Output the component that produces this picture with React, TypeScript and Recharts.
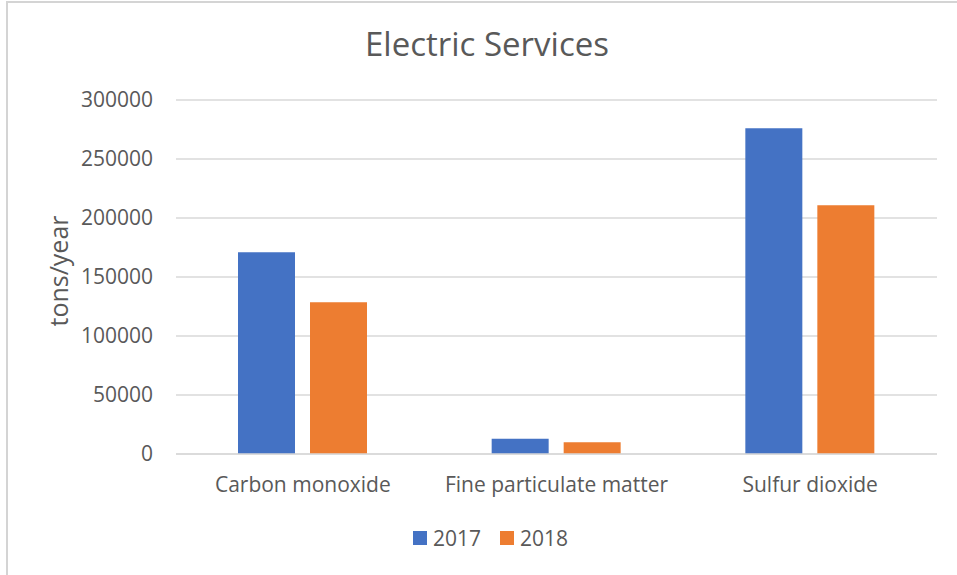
import React from "react";
import { Bar, BarChart, CartesianGrid, XAxis, YAxis } from "recharts";

const categories = ["Carbon monoxide", "Fine particulate matter", "Sulfur dioxide"];
const values2017 = [171000, 13000, 276000];
const values2018 = [128700, 10000, 210700];
const yTicks = [0, 50000, 100000, 150000, 200000, 250000, 300000];

const series = [
  { key: "y2017", name: "2017", color: "#4472C4" },
  { key: "y2018", name: "2018", color: "#ED7D31" },
];

const textColor = "#595959";
const gridColor = "#d9d9d9";
const font = "'Open Sans', sans-serif";

const LegendBox = () => (
  <div style={{ display: "flex", justifyContent: "center", gap: 19, fontFamily: font }}>
    {series.map((s) => (
      <div key={s.key} style={{ display: "flex", alignItems: "center", gap: 6 }}>
        <span style={{ width: 14, height: 14, background: s.color, display: "inline-block" }} />
        <span style={{ fontSize: 21, color: textColor, lineHeight: "24px" }}>{s.name}</span>
      </div>
    ))}
  </div>
);

export default function App() {
  const data = categories.map((c, i) => ({
    name: c,
    y2017: values2017[i],
    y2018: values2018[i],
  }));

  return (
    <div style={{ position: "absolute", left: 0, top: 0, width: 957, height: 575, background: "#fff", overflow: "hidden", fontFamily: font }}>
      <div
        style={{
          position: "absolute",
          left: 6,
          top: 1,
          width: 951,
          height: 574,
          borderLeft: "2px solid #d4d4d4",
          borderTop: "2px solid #d4d4d4",
          boxSizing: "border-box",
        }}
      />
      <div style={{ position: "absolute", left: 17, width: 940, top: 20, textAlign: "center", fontSize: 33, color: textColor, lineHeight: "48px" }}>
        Electric Services
      </div>
      <div
        style={{
          position: "absolute",
          left: 58,
          top: 271,
          transform: "translate(-50%, -50%) rotate(-90deg)",
          fontSize: 25,
          color: textColor,
          whiteSpace: "nowrap",
        }}
      >
        tons/year
      </div>
      <div style={{ position: "absolute", left: 0, top: 0 }}>
        <BarChart
          width={957}
          height={575}
          data={data}
          margin={{ top: 100, right: 20, bottom: 0, left: 96 }}
          barCategoryGap={62}
          barGap={15}
        >
          <CartesianGrid vertical={false} stroke={gridColor} strokeWidth={1.3} />
          <YAxis
            width={80}
            domain={[0, 300000]}
            ticks={yTicks}
            axisLine={false}
            tickLine={false}
            tickSize={0}
            tickMargin={23}
            tick={{ fill: textColor, fontSize: 21, fontFamily: font }}
          />
          <XAxis
            dataKey="name"
            height={121}
            axisLine={{ stroke: gridColor, strokeWidth: 1.3 }}
            tickLine={false}
            tickSize={0}
            tickMargin={23}
            tick={{ fill: textColor, fontSize: 21, fontFamily: font }}
            interval={0}
          />
          {series.map((s) => (
            <Bar key={s.key} dataKey={s.key} name={s.name} fill={s.color} isAnimationActive={false} />
          ))}
        </BarChart>
      </div>
      <div style={{ position: "absolute", left: 24, width: 933, top: 526 }}>
        <LegendBox />
      </div>
    </div>
  );
}
